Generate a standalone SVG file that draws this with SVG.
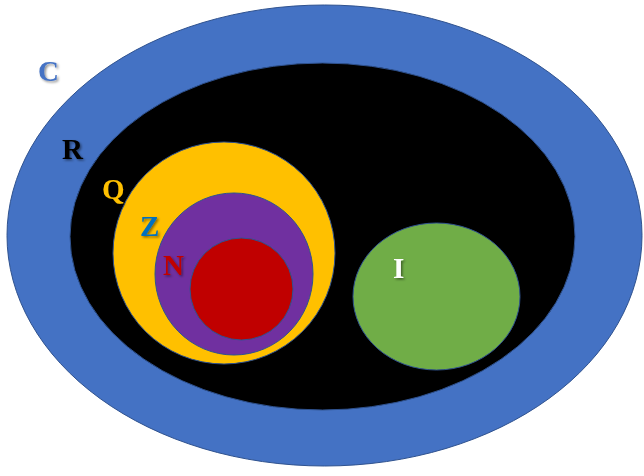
<svg xmlns="http://www.w3.org/2000/svg" width="644" height="476" viewBox="0 0 644 476">
<style>
.set{stroke:#2F528F;stroke-width:1}
.lbl{font-family:"Liberation Serif","Times New Roman",serif;font-weight:bold;font-size:29px;filter:url(#sh)}
</style>
<defs>
<filter id="sh" x="-30%" y="-30%" width="170%" height="170%">
<feDropShadow dx="1.5" dy="1.5" stdDeviation="1" flood-color="#000" flood-opacity="0.45"/>
</filter>
</defs>
<rect width="644" height="476" fill="#fff"/>
<g id="C">
<ellipse class="set" cx="324.5" cy="235.5" rx="317.5" ry="230.5" fill="#4472C4"/>
<text class="lbl" x="38" y="81" fill="#4472C4">C</text>
</g>
<g id="R">
<ellipse class="set" cx="322.5" cy="236.5" rx="252.5" ry="173.5" fill="#000"/>
<text class="lbl" x="62" y="159" fill="#000">R</text>
</g>
<g id="Q">
<ellipse class="set" cx="224" cy="253" rx="111" ry="111" fill="#FFC000"/>
<text class="lbl" x="102" y="199" fill="#FFC000">Q</text>
</g>
<g id="Z">
<ellipse class="set" cx="234" cy="274" rx="79" ry="81" fill="#7030A0"/>
<text class="lbl" x="140" y="236" fill="#0070C0">Z</text>
</g>
<g id="N">
<ellipse class="set" cx="241.5" cy="289" rx="51.5" ry="51" fill="#C00000"/>
<text class="lbl" x="163" y="275" fill="#C00000">N</text>
</g>
<g id="I">
<ellipse class="set" cx="436.5" cy="296.5" rx="83.5" ry="73.5" fill="#70AD47"/>
<text class="lbl" x="393" y="278" fill="#fff">I</text>
</g>
<g id="connectors"/>
</svg>
